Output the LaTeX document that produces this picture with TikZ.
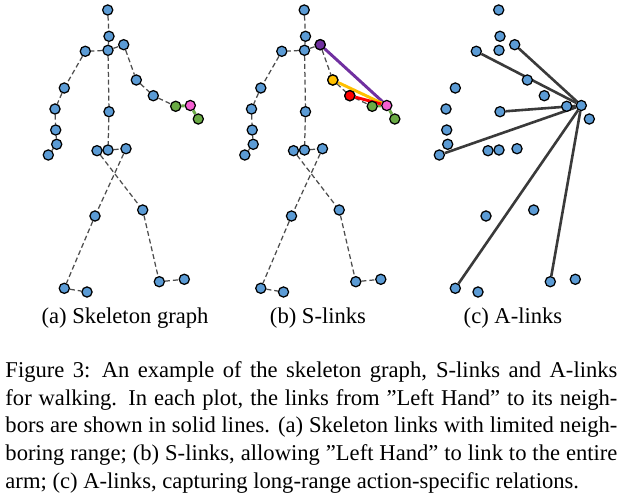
\documentclass[tikz,border=0pt]{standalone}
\usepackage{fontspec}
\setmainfont{Liberation Serif}
\usepackage{xcolor}
\usetikzlibrary{backgrounds}
\definecolor{jointblue}{HTML}{5B9BD5}
\definecolor{handpink}{HTML}{F55FD2}
\definecolor{leafgreen}{HTML}{6AAB45}
\definecolor{armpurple}{HTML}{7030A0}
\definecolor{armorange}{HTML}{FFC000}
\definecolor{armred}{HTML}{FF0000}
\definecolor{bonegray}{HTML}{4D4D4D}
\definecolor{linkgray}{HTML}{3A3A3A}
\tikzstyle{joint} = [circle, 
draw=black, 
line width=0.55pt, 
fill=jointblue, 
minimum size=4.5pt, 
inner sep=0pt]
\tikzstyle{bone} = [draw=bonegray, line width=0.55pt, dash pattern=on 2.2pt off 1.3pt]
\tikzstyle{slink} = [line width=1.3pt]
\tikzstyle{alink} = [draw=linkgray, line width=1.15pt]
\tikzstyle{sublabel} = [anchor=base, inner sep=0pt, font=\fontsize{10}{12}\selectfont]
\tikzset{palmjoint/.style={}, handjoint/.style={}, thumbjoint/.style={}}

% one skeleton, coordinates in pixels
\newcommand{\joints}[1]{%
  \node (#1head) [joint] at (107.7,10) {};
  \node (#1neck) [joint] at (109,36.3) {};
  \node (#1spsh) [joint] at (108,50.3) {};
  \node (#1shoR) [joint] at (85.3,51.3) {};
  \node (#1elbR) [joint] at (64.3,88) {};
  \node (#1wriR) [joint] at (55,109) {};
  \node (#1palR) [joint] at (55.7,130) {};
  \node (#1hanR) [joint] at (56.7,144.3) {};
  \node (#1thuR) [joint] at (48.3,155) {};
  \node (#1shoL) [joint] at (123.7,44.7) {};
  \node (#1elbL) [joint] at (136.3,80) {};
  \node (#1wriL) [joint] at (153.3,95.7) {};
  \node (#1palL) [joint, palmjoint] at (175.7,106.3) {};
  \node (#1hanL) [joint, handjoint] at (190.3,105.5) {};
  \node (#1thuL) [joint, thumbjoint] at (198.3,119) {};
  \node (#1spmid) [joint] at (109,111.7) {};
  \node (#1spbase) [joint] at (108,150) {};
  \node (#1hipR) [joint] at (97,150.7) {};
  \node (#1hipL) [joint] at (126,148.7) {};
  \node (#1kneR) [joint] at (142.7,210) {};
  \node (#1ankR) [joint] at (159.3,281.7) {};
  \node (#1fooR) [joint] at (184.3,279.3) {};
  \node (#1kneL) [joint] at (95,216) {};
  \node (#1ankL) [joint] at (64.3,288.3) {};
  \node (#1fooL) [joint] at (87,292) {};
}
\newcommand{\bones}[1]{%
  \foreach \u/\v in {head/neck, neck/spsh, spsh/shoR, shoR/elbR, elbR/wriR, wriR/palR,
    palR/hanR, hanR/thuR, spsh/shoL, shoL/elbL, elbL/wriL, wriL/palL, spsh/spmid,
    spmid/spbase, spbase/hipR, spbase/hipL, hipR/kneR, kneR/ankR, ankR/fooR,
    hipL/kneL, kneL/ankL, ankL/fooL}
    \draw [bone] (#1\u) -- (#1\v);
}

\begin{document}
\begin{tikzpicture}[x=0.4425pt, y=-0.4425pt]
  \useasboundingbox (0,0) rectangle (624,496);

  % (a) skeleton graph
  \begin{scope}[palmjoint/.style={fill=leafgreen}, handjoint/.style={fill=handpink}, thumbjoint/.style={fill=leafgreen}]
    \joints{a}
  \end{scope}
  % (b) S-links
  \begin{scope}[shift={(196.5,0)}, palmjoint/.style={fill=leafgreen}, handjoint/.style={fill=handpink}, thumbjoint/.style={fill=leafgreen}]
    \joints{b}
  \end{scope}
  \node [joint, fill=armpurple] at (bshoL) {};
  \node [joint, fill=armorange] at (belbL) {};
  \node [joint, fill=armred] at (bwriL) {};
  % (c) A-links
  \begin{scope}[shift={(391,0)}]
    \joints{c}
  \end{scope}

  % Conexiones
  \begin{scope}[on background layer]
    \bones{a}
    \draw [slink, draw=leafgreen] (apalL) -- (ahanL) -- (athuL);
    \bones{b}
    \draw [slink, draw=leafgreen] (bpalL) -- (bhanL) -- (bthuL);
    \draw [slink, draw=armpurple] (bshoL) -- (bhanL);
    \draw [slink, draw=armorange] (belbL) -- (bhanL);
    \draw [slink, draw=armred] (bwriL) -- (bhanL);
    \foreach \v in {shoL, shoR, spmid, thuR, ankL, ankR}
      \draw [alink] (chanL) -- (c\v);
  \end{scope}

  % Leyendas
  \node (suba) [sublabel] at (125,323) {(a) Skeleton graph};
  \node (subb) [sublabel] at (318,323) {(b) S-links};
  \node (subc) [sublabel] at (513,323) {(c) A-links};

  \node (caption) [anchor=north west, inner sep=0pt, text width=270.8pt, align=justify,
    font=\fontsize{10}{12.25}\selectfont] at (5,361)
    {Figure 3:\enspace An example of the skeleton graph, S-links and A-links\linebreak
     for walking. In each plot, the links from ''Left Hand'' to its neigh-\linebreak
     bors are shown in solid lines. (a) Skeleton links with limited neigh-\linebreak
     boring range; (b) S-links, allowing ''Left Hand'' to link to the entire\linebreak
     arm; (c) A-links, capturing long-range action-specific relations.};
\end{tikzpicture}
\end{document}
